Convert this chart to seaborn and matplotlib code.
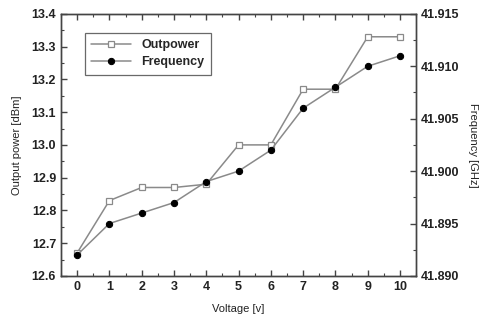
import numpy as np
import pandas as pd
import matplotlib
matplotlib.use('Agg')
import matplotlib.pyplot as plt
import seaborn as sns
from matplotlib.ticker import MultipleLocator

# values
voltage = [0, 1, 2, 3, 4, 5, 6, 7, 8, 9, 10]
outpower = [12.67, 12.83, 12.87, 12.87, 12.88, 13.00, 13.00, 13.17, 13.17, 13.33, 13.33]
frequency = [41.892, 41.895, 41.896, 41.897, 41.899, 41.900, 41.902, 41.906, 41.908, 41.910, 41.911]

df = pd.DataFrame({'Voltage': voltage, 'Outpower': outpower, 'Frequency': frequency})

sns.set_style('ticks')
plt.rcParams['font.family'] = ['Liberation Sans', 'DejaVu Sans']

fig, ax = plt.subplots(figsize=(4.8, 3.22), dpi=100)
fig.subplots_adjust(left=0.127, right=0.867, top=0.957, bottom=0.143)
ax2 = ax.twinx()

line_col = '#8a8a8a'
sns.lineplot(data=df, x='Voltage', y='Outpower', ax=ax, color=line_col, lw=1.1,
             marker='s', markersize=4.2, markerfacecolor='white',
             markeredgecolor='#8a8a8a', markeredgewidth=0.9, label='Outpower', legend=False)
sns.lineplot(data=df, x='Voltage', y='Frequency', ax=ax2, color=line_col, lw=1.1,
             marker='o', markersize=4.5, markerfacecolor='black',
             markeredgecolor='black', label='Frequency', legend=False)

ax.set_xlim(-0.5, 10.5)
ax.set_ylim(12.6, 13.4)
ax2.set_ylim(41.890, 41.915)
ax.set_xticks(voltage)
ax.xaxis.set_minor_locator(MultipleLocator(0.5))
ax.yaxis.set_major_locator(MultipleLocator(0.1))
ax.yaxis.set_minor_locator(MultipleLocator(0.05))
ax2.yaxis.set_major_locator(MultipleLocator(0.005))
ax2.yaxis.set_minor_locator(MultipleLocator(0.0025))
ax.yaxis.set_major_formatter(matplotlib.ticker.FormatStrFormatter('%.1f'))
ax2.yaxis.set_major_formatter(matplotlib.ticker.FormatStrFormatter('%.3f'))

spine_col = '#444444'
for a in (ax, ax2):
    for s in a.spines.values():
        s.set_visible(True)
        s.set_color(spine_col)
        s.set_linewidth(1.0)
ax.tick_params(which='both', direction='in', top=True, right=False, colors=spine_col,
               labelcolor='#222222')
ax.tick_params(which='major', length=4, width=1.0, labelsize=9)
ax.tick_params(which='minor', length=2, width=0.8)
ax2.tick_params(which='both', direction='in', colors=spine_col, labelcolor='#222222')
ax2.tick_params(which='major', length=4, width=1.0, labelsize=9)
ax2.tick_params(which='minor', length=2, width=0.8)
for lab in ax.get_xticklabels() + ax.get_yticklabels() + ax2.get_yticklabels():
    lab.set_fontweight('bold')

ax.set_xlabel('Voltage [v]', fontsize=8, color='#222222', labelpad=8)
ax.set_ylabel('Output power [dBm]', fontsize=8, color='#222222', labelpad=7)
ax2.set_ylabel('Frequency [GHz]', fontsize=8, color='#222222', rotation=270, labelpad=13)

h1, l1 = ax.get_legend_handles_labels()
h2, l2 = ax2.get_legend_handles_labels()
leg = ax.legend(h1 + h2, l1 + l2, loc='upper left', bbox_to_anchor=(0.05, 0.95),
                frameon=True, fancybox=False, edgecolor='#444444', handlelength=3.2,
                prop={'weight': 'bold', 'size': 9}, borderpad=0.5, labelspacing=0.4)
leg.get_frame().set_linewidth(0.9)

fig.savefig('out.png', dpi=100)
